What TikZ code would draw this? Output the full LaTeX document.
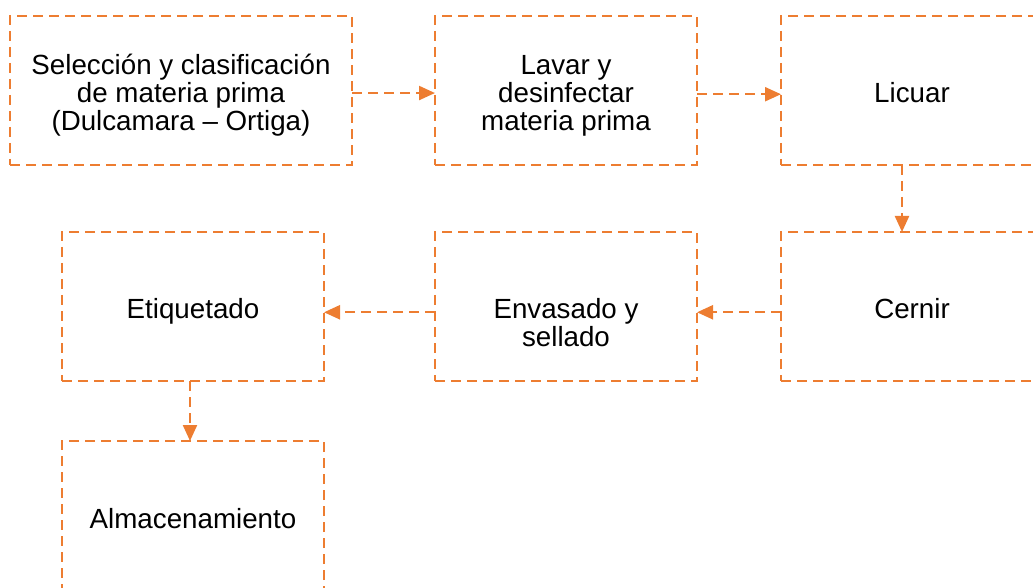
\documentclass[tikz,border=0pt]{standalone}
\usepackage{fontspec}
\setmainfont{Liberation Sans}
\usepackage{xcolor}
\usepackage{tikz}
\usetikzlibrary{arrows.meta,positioning}
\definecolor{flame}{HTML}{ED7D31}
\tikzset{
    stepbox/.style={draw=flame,line width=1.7pt,dash pattern=on 7.5pt off 4.5pt,
      minimum width=196.5pt,minimum height=111.75pt,inner sep=0pt,outer sep=0pt},
    steptext/.style={align=center,inner sep=0pt,anchor=base,
      font={\fontsize{20.8}{21}\selectfont\lineskiplimit=-30pt}},
    flowarrow/.style={-{Triangle[length=12pt,width=10.5pt]},draw=flame,
      line width=1.7pt,dash pattern=on 7.5pt off 4.5pt}
}

\begin{document}
\begin{tikzpicture}
  \path[use as bounding box,clip] (0,0) rectangle (774.75pt,-441pt);
  \node[stepbox,minimum width=256.5pt,anchor=north west] (sel) at (7.5pt,-12pt) {};
  \node[stepbox,right=62.25pt of sel] (lav) {};
  \node[stepbox,right=63pt of lav] (lic) {};
  \node[stepbox,below=50.25pt of lic] (cer) {};
  \node[stepbox,below=50.25pt of lav] (env) {};
  \node[stepbox,left=83.25pt of env] (eti) {};
  \node[stepbox,below=45pt of eti] (alm) {};
  % base anchor sits on the last line
  \node[steptext] (selt) at ([yshift=-86.25pt]sel.north)
    {Selección y clasificación\\de materia prima\\(Dulcamara – Ortiga)};
  \node[steptext] (lavt) at ([yshift=-86.25pt]lav.north) {Lavar y\\desinfectar\\materia prima};
  \node[steptext] (lict) at ([yshift=-65.25pt]lic.north) {Licuar};
  \node[steptext] (cert) at ([yshift=-65.25pt]cer.north) {Cernir};
  \node[steptext] (envt) at ([yshift=-86.25pt]env.north) {Envasado y\\sellado};
  \node[steptext] (etit) at ([yshift=-65.25pt]eti.north) {Etiquetado};
  \node[steptext] (almt) at ([yshift=-65.25pt]alm.north) {Almacenamiento};
  \draw[flowarrow] ([yshift=-1.9pt]sel.east)--([yshift=-1.9pt]lav.west);
  \draw[flowarrow] ([yshift=-2.8pt]lav.east)--([yshift=-2.8pt]lic.west);
  \draw[flowarrow] ([xshift=-7.5pt]lic.south)--([xshift=-7.5pt]cer.north);
  \draw[flowarrow] ([yshift=-4.35pt]cer.west)--([yshift=-4.35pt]env.east);
  \draw[flowarrow] ([yshift=-4.35pt]env.west)--([yshift=-4.35pt]eti.east);
  \draw[flowarrow] ([xshift=-2.25pt]eti.south)--([xshift=-2.25pt]alm.north);
\end{tikzpicture}
\end{document}
